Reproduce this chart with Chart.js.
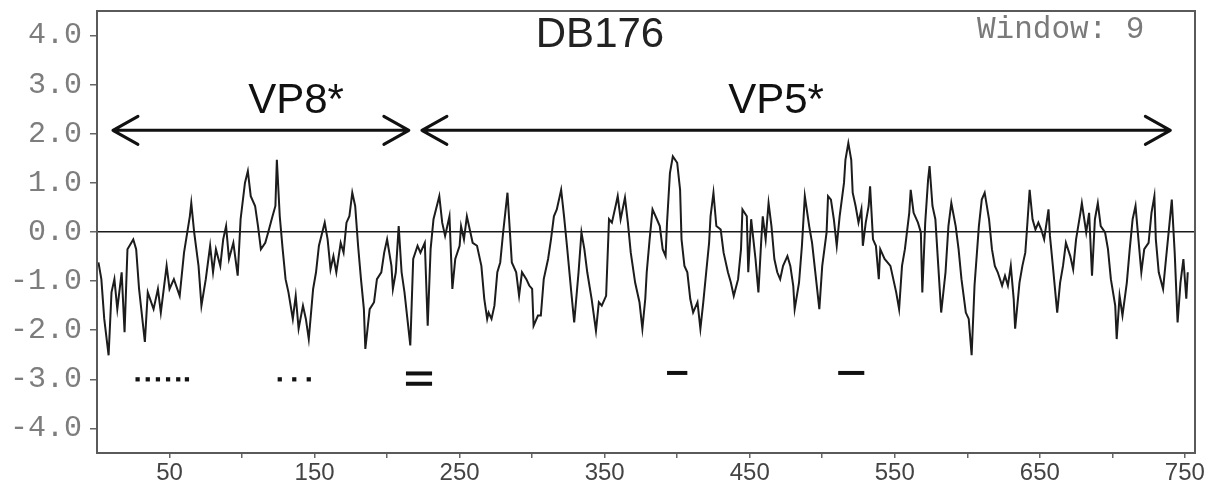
<!DOCTYPE html>
<html>
<head>
<meta charset="utf-8">
<title>DB176</title>
<script src="https://cdn.jsdelivr.net/npm/chart.js@4/dist/chart.umd.min.js"></script>
<style>
  html, body { margin: 0; padding: 0; background: #fff; }
  #wrap { width: 1221px; height: 491px; }
</style>
</head>
<body>
<div id="wrap"><canvas id="profil" width="1221" height="491"></canvas></div>
<script>
// Hydropathie-Profil, Werte
const residue = [
  1, 3, 5, 8, 10, 12, 14, 17, 19, 21, 25, 27, 29, 33, 35, 39, 42, 44, 48, 50,
  53, 57, 60, 64, 65, 67, 70, 72, 75, 78, 80, 82, 85, 87, 89, 91, 94, 97, 99, 102,
  104, 106, 109, 111, 113, 116, 118, 121, 123, 124, 126, 128, 130, 132, 135, 137, 139, 142, 144, 146,
  149, 151, 153, 157, 159, 161, 163, 165, 168, 170, 172, 174, 176, 178, 180, 182, 184, 185, 188, 191,
  193, 196, 198, 200, 203, 204, 206, 208, 210, 212, 214, 216, 218, 221, 223, 226, 228, 230, 232, 236,
  238, 240, 243, 245, 247, 250, 251, 253, 255, 257, 259, 262, 265, 267, 269, 270, 272, 274, 276, 278,
  280, 282, 283, 285, 286, 289, 291, 293, 296, 298, 300, 301, 304, 306, 308, 311, 313, 315, 317, 320,
  322, 324, 327, 329, 332, 334, 336, 338, 341, 344, 346, 348, 351, 353, 355, 358, 359, 361, 364, 366,
  368, 371, 374, 376, 378, 379, 381, 383, 386, 388, 390, 392, 393, 395, 397, 400, 402, 403, 405, 407,
  409, 411, 414, 416, 418, 420, 422, 423, 425, 427, 430, 432, 435, 437, 439, 442, 444, 445, 448, 449,
  451, 454, 456, 458, 459, 461, 463, 465, 467, 469, 471, 473, 476, 478, 480, 481, 484, 486, 488, 491,
  493, 495, 498, 500, 503, 504, 506, 508, 510, 512, 515, 516, 518, 520, 521, 523, 525, 527, 528, 530,
  532, 533, 535, 537, 539, 540, 543, 545, 547, 549, 551, 553, 555, 557, 560, 561, 563, 566, 568, 569,
  571, 573, 574, 576, 578, 580, 582, 585, 587, 589, 592, 594, 596, 599, 601, 603, 605, 608, 610, 612,
  615, 617, 619, 621, 624, 626, 628, 630, 632, 633, 636, 638, 640, 641, 643, 645, 647, 649, 651, 653,
  656, 657, 659, 662, 664, 666, 668, 671, 673, 675, 678, 679, 682, 684, 686, 688, 690, 692, 695, 697,
  699, 702, 703, 705, 707, 710, 712, 714, 716, 718, 720, 722, 725, 727, 729, 730, 732, 735, 737, 739,
  741, 743, 745, 747, 749, 751, 752
];
const hydropathy = [
  -0.62, -0.96, -1.77, -2.51, -1.23, -0.96, -1.57, -0.82, -2.04, -0.35, -0.15, -0.35, -1.16, -2.24, -1.23, -1.57, -1.16, -1.64, -0.69, -1.16,
  -0.96, -1.30, -0.42, 0.32, 0.59, -0.01, -0.69, -1.50, -0.96, -0.28, -0.82, -0.35, -0.69, -0.15, 0.12, -0.55, -0.22, -0.89, 0.26, 1.00,
  1.24, 0.73, 0.53, 0.12, -0.35, -0.22, -0.01, 0.32, 0.53, 1.47, 0.32, -0.35, -0.96, -1.23, -1.77, -1.30, -1.97, -1.50, -1.77, -2.18,
  -1.16, -0.82, -0.28, 0.19, -0.15, -0.76, -0.49, -0.82, -0.22, -0.42, 0.19, 0.32, 0.80, 0.53, -0.28, -0.96, -1.57, -2.38, -1.57, -1.43,
  -0.96, -0.82, -0.42, -0.15, -0.69, -1.16, -0.82, 0.12, -0.82, -1.23, -1.77, -2.31, -0.55, -0.28, -0.42, -0.22, -1.91, -0.35, 0.26, 0.73,
  0.19, -0.08, 0.32, -1.16, -0.55, -0.28, 0.12, -0.15, 0.32, 0.05, -0.22, -0.28, -0.69, -1.36, -1.77, -1.64, -1.77, -1.50, -0.82, -0.62,
  -0.01, 0.53, 0.80, -0.15, -0.62, -0.82, -1.30, -0.82, -0.96, -1.09, -1.16, -1.91, -1.70, -1.70, -0.96, -0.55, -0.15, 0.32, 0.46, 0.86,
  0.32, -0.28, -1.23, -1.84, -0.82, -0.01, -0.35, -0.82, -1.36, -2.01, -1.43, -1.50, -1.30, 0.26, 0.19, 0.59, 0.73, 0.26, 0.70, 0.19,
  -0.42, -1.03, -1.43, -1.97, -1.36, -0.82, -0.15, 0.46, 0.26, 0.12, -0.35, -0.49, 0.19, 1.20, 1.54, 1.41, 0.86, -0.15, -0.69, -0.82,
  -1.36, -1.64, -1.43, -1.97, -1.43, -0.82, -0.22, 0.32, 0.80, 0.12, 0.05, -0.42, -0.82, -1.03, -1.30, -0.96, -0.35, 0.46, 0.32, -0.82,
  0.26, -0.55, -1.23, -0.15, 0.32, -0.15, 0.59, 0.12, -0.55, -0.82, -0.96, -0.69, -0.49, -0.69, -1.09, -1.57, -1.03, -0.28, 0.73, 0.12,
  -0.22, -0.76, -1.57, -0.69, -0.01, 0.73, 0.66, 0.26, -0.28, 0.32, 1.00, 1.47, 1.81, 1.47, 0.80, 0.53, 0.19, 0.46, -0.28, 0.19,
  0.53, 0.93, -0.15, -0.28, -0.96, -0.35, -0.55, -0.62, -0.69, -0.96, -1.23, -1.57, -0.69, -0.35, 0.39, 0.86, 0.39, 0.19, -0.01, -1.23,
  0.19, 1.07, 1.34, 0.53, 0.26, -0.69, -1.64, -0.82, 0.12, 0.59, 0.12, -0.35, -0.96, -1.64, -1.77, -2.51, -1.09, 0.12, 0.66, 0.80,
  0.26, -0.35, -0.69, -0.82, -1.09, -0.89, -1.09, -0.69, -1.36, -1.97, -1.03, -0.69, -0.42, -0.01, 0.86, 0.26, 0.05, 0.19, 0.05, -0.15,
  0.46, -0.08, -0.69, -1.64, -1.03, -0.69, -0.22, -0.49, -0.76, -0.15, 0.39, 0.59, -0.01, 0.39, -0.89, 0.26, 0.59, 0.12, -0.01, -0.35,
  -0.96, -1.50, -2.18, -1.30, -1.70, -1.03, -0.35, 0.26, 0.53, -0.15, -0.82, -0.35, -0.22, 0.39, 0.73, -0.15, -0.82, -1.16, -0.55, 0.05,
  0.66, -0.42, -1.84, -1.03, -0.55, -1.36, -0.82
];

// Achsen
const xTicks = [50, 100, 150, 200, 250, 300, 350, 400, 450, 500, 550, 600, 650, 700, 750];
const yTicks = [-4, -3, -2, -1, 0, 1, 2, 3, 4];

// Bereiche (Pfeile) und Markierungen
const regionLabels = ["VP8*", "VP5*"];
const regionStart = [11, 224];
const regionEnd = [215, 740];
const regionLevel = 2.07;

const dotMarks = [28, 35, 42, 49, 56, 62, 126, 136, 146];
const dotLevel = -3.0;
const dashMarks = [[213, 231, -2.88], [213, 231, -3.09], [393, 407, -2.87], [511, 529, -2.87]];

const titel = "DB176";
const fensterText = "Window: 9";

const kurve = residue.map((x, i) => ({ x: x, y: hydropathy[i] }));

const datasets = [{
  data: kurve,
  borderColor: "#1c1c1c",
  borderWidth: 2,
  pointRadius: 0,
  tension: 0
}, {
  data: dotMarks.map(x => ({ x: x, y: dotLevel })),
  showLine: false,
  pointStyle: "rect",
  pointRadius: 3,
  backgroundColor: "#111",
  borderWidth: 0
}];
dashMarks.forEach(m => {
  datasets.push({
    data: [{ x: m[0], y: m[2] }, { x: m[1], y: m[2] }],
    borderColor: "#111",
    borderWidth: 4,
    borderCapStyle: "butt",
    pointRadius: 0
  });
});

// keine Extra-Polsterung durch Beschriftungen
function ohnePadding(s) {
  s.paddingTop = 0;
  s.paddingBottom = 0;
  s.paddingLeft = 0;
  s.paddingRight = 0;
}

// Rahmen, Titel, Pfeile
const deko = {
  id: "deko",
  afterDraw(chart) {
    const ctx = chart.ctx;
    const a = chart.chartArea;
    const xs = chart.scales.x;
    const ys = chart.scales.y;
    ctx.save();

    ctx.strokeStyle = "#5a5a5a";
    ctx.lineWidth = 2;
    ctx.strokeRect(a.left, a.top, a.right - a.left, a.bottom - a.top);

    ctx.fillStyle = "#222";
    ctx.font = "42px 'Liberation Sans', Arial, sans-serif";
    ctx.textAlign = "center";
    ctx.textBaseline = "middle";
    ctx.fillText(titel, 600, 35);

    ctx.fillStyle = "#7a7a7a";
    ctx.font = "31px 'Liberation Mono', 'Courier New', monospace";
    ctx.textAlign = "left";
    ctx.fillText(fensterText, 977, 30);

    const yp = ys.getPixelForValue(regionLevel);
    ctx.strokeStyle = "#111";
    ctx.fillStyle = "#111";
    ctx.lineWidth = 3;
    ctx.lineCap = "round";
    ctx.lineJoin = "round";
    regionLabels.forEach((lab, i) => {
      const x1 = xs.getPixelForValue(regionStart[i]);
      const x2 = xs.getPixelForValue(regionEnd[i]);
      ctx.beginPath();
      ctx.moveTo(x1, yp);
      ctx.lineTo(x2, yp);
      ctx.moveTo(x1 + 25, yp - 14);
      ctx.lineTo(x1, yp);
      ctx.lineTo(x1 + 25, yp + 14);
      ctx.moveTo(x2 - 25, yp - 14);
      ctx.lineTo(x2, yp);
      ctx.lineTo(x2 - 25, yp + 14);
      ctx.stroke();
    });
    ctx.font = "42px 'Liberation Sans', Arial, sans-serif";
    ctx.textAlign = "center";
    ctx.fillText(regionLabels[0], 296, 101);
    ctx.fillText(regionLabels[1], 776, 101);

    ctx.restore();
  }
};

new Chart(document.getElementById("profil"), {
  type: "line",
  data: { datasets: datasets },
  options: {
    responsive: false,
    animation: false,
    devicePixelRatio: 1,
    layout: { padding: { left: 0, top: 11, right: 26, bottom: 0 } },
    plugins: { legend: { display: false }, tooltip: { enabled: false } },
    scales: {
      x: {
        type: "linear",
        min: 0,
        max: 757,
        afterBuildTicks: s => { s.ticks = xTicks.map(v => ({ value: v })); },
        afterFit: s => { s.height = 38; ohnePadding(s); },
        border: { display: false },
        grid: { drawOnChartArea: false, tickLength: 5, tickColor: "#666", lineWidth: 1.5 },
        ticks: {
          autoSkip: false,
          maxRotation: 0,
          padding: 1,
          color: "#444",
          font: { family: "'Liberation Sans', Arial, sans-serif", size: 24 },
          callback: v => (v % 100 === 50 ? String(v) : "")
        }
      },
      y: {
        min: -4.5,
        max: 4.5,
        afterBuildTicks: s => { s.ticks = yTicks.map(v => ({ value: v })); },
        afterFit: s => { s.width = 97; ohnePadding(s); },
        border: { display: false },
        grid: {
          drawOnChartArea: true,
          color: c => (c.tick && c.tick.value === 0 ? "#1a1a1a" : "rgba(0,0,0,0)"),
          lineWidth: 1.5,
          tickLength: 7,
          tickColor: "#666"
        },
        ticks: {
          padding: 8,
          color: "#7d7d7d",
          font: { family: "'Liberation Mono', 'Courier New', monospace", size: 30 },
          callback: v => v.toFixed(1)
        }
      }
    }
  },
  plugins: [deko]
});
</script>
</body>
</html>
